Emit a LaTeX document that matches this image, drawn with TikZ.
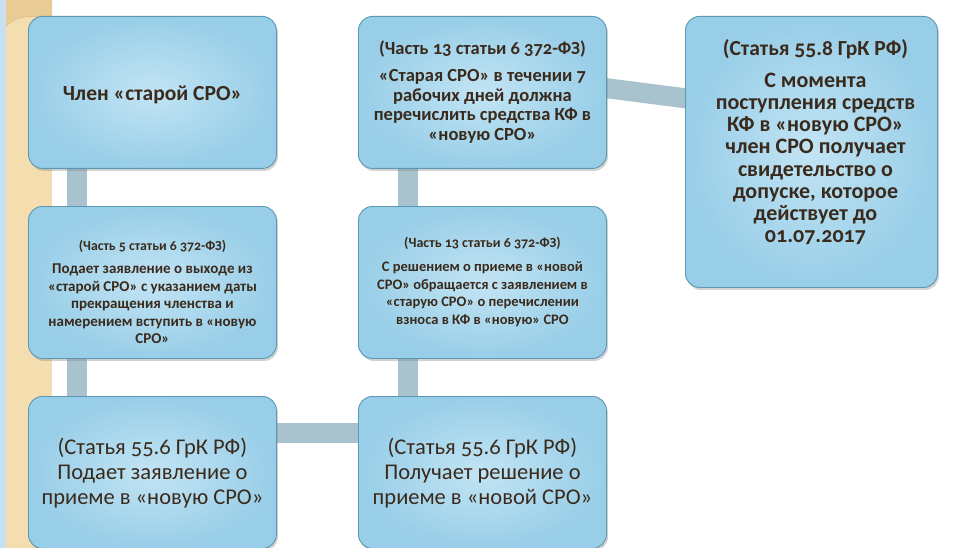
\documentclass[tikz,border=0pt]{standalone}
\usepackage{fontspec}
\setmainfont{Carlito}[Numbers=OldStyle]
\usetikzlibrary{calc,shadows,backgrounds}
\definecolor{boxfillin}{HTML}{C2E4F4}
\definecolor{boxfillout}{HTML}{98CEE8}
\definecolor{boxline}{HTML}{5A98B4}
\definecolor{barcol}{HTML}{A8C3CD}
\definecolor{txtcol}{HTML}{3A2A1C}
\definecolor{beige}{HTML}{F4DDAF}
\definecolor{beigedark}{HTML}{E9CC95}
\definecolor{leftblue}{HTML}{C9E0F0}
\tikzset{
  box/.style={draw=boxline, line width=0.9pt, rounded corners=14pt,
    inner color=boxfillin, outer color=boxfillout,
    minimum width=248pt, minimum height=152pt, anchor=north west,
    inner sep=0pt,
    drop shadow={opacity=0.35, shadow xshift=1.5pt, shadow yshift=-2.5pt}},
  txt/.style={align=center, text=txtcol, inner sep=0pt, anchor=center},
  bar/.style={draw=barcol, line width=20pt},
}
\begin{document}
\begin{tikzpicture}[x=1pt,y=-1pt]
\useasboundingbox (0,0) rectangle (971,548);
\begin{scope}[on background layer]
\fill[white] (0,0) rectangle (971,548);
% left decorative strip
\fill[leftblue] (0,0) rectangle (6,548);
\fill[beige] (6,0) rectangle (52,548);
\fill[beigedark] (6,0) -- (52,0) -- (52,22) .. controls (40,14) and (18,14) .. (6,26) -- cycle;
\draw[beigedark!80!brown, line width=0.6pt] (52,22) .. controls (40,14) and (18,14) .. (6,26);
\end{scope}

% boxes
\node[box] (A) at (28,16) {};
\node[box] (B) at (358,16) {};
\node[box, minimum width=252pt, minimum height=271pt] (C) at (685,16) {};
\node[box] (D) at (28,206) {};
\node[box] (E) at (358,206) {};
\node[box] (F) at (28,396) {};
\node[box] (G) at (358,396) {};

% texts
\node[txt, font=\bfseries\fontsize{21.5}{24}\selectfont] (At) at ($(A.north)+(0,79)$) {Член «старой СРО»};

\node[txt, font=\bfseries\fontsize{18.5}{19.5}\selectfont] (Bt) at ($(B.north)+(0,76)$)
 {(Часть 13 статьи 6 372-ФЗ)\\[8pt]
  «Старая СРО» в течении 7\\ рабочих дней должна\\ перечислить средства КФ в\\ «новую СРО»};

\node[txt, font=\bfseries\fontsize{22}{22.2}\selectfont] (Ct) at ($(C.north)+(4,126)$)
 {{\fontsize{21.5}{22}\selectfont (Статья 55.8 ГрК РФ)}\\[10pt]
  С момента\\ поступления средств\\ КФ в «новую СРО»\\ член СРО получает\\ свидетельство о\\ допуске, которое\\ действует до\\ 01.07.2017};

\node[txt, font=\bfseries\fontsize{15}{17.5}\selectfont] (Dt) at ($(D.north)+(0,86)$)
 {{\fontsize{13.8}{15}\selectfont (Часть 5 статьи 6 372-ФЗ)}\\[6pt]
  Подает заявление о выходе из\\ «старой СРО» с указанием даты\\ прекращения членства и\\ намерением вступить в «новую\\ СРО»};

\node[txt, font=\bfseries\fontsize{14.5}{17.6}\selectfont] (Et) at ($(E.north)+(0,76)$)
 {{\fontsize{14}{15}\selectfont (Часть 13 статьи 6 372-ФЗ)}\\[6pt]
  С решением о приеме в «новой\\ СРО» обращается с заявлением в\\ «старую СРО» о перечислении\\ взноса в КФ в «новую» СРО};

\node[txt, font=\fontsize{22.5}{25}\selectfont] (Ft) at ($(F.north)+(0,77)$)
 {(Статья 55.6 ГрК РФ)\\ Подает заявление о\\ приеме в «новую СРО»};

\node[txt, font=\fontsize{22.5}{25}\selectfont] (Gt) at ($(G.north)+(0,77)$)
 {(Статья 55.6 ГрК РФ)\\ Получает решение о\\ приеме в «новой СРО»};

% connectors behind boxes
\begin{scope}[on background layer]
\draw[bar] ($(A.south west)+(49,-2)$) -- ($(D.north west)+(49,2)$);
\draw[bar] ($(D.south west)+(49,-2)$) -- ($(F.north west)+(49,2)$);
\draw[bar] ($(F.north east)+(-2,37)$) -- ($(G.north west)+(2,37)$);
\draw[bar] ($(G.north west)+(50,2)$) -- ($(E.south west)+(50,-2)$);
\draw[bar] ($(E.north west)+(50,2)$) -- ($(B.south west)+(50,-2)$);
\draw[bar] ($(B.north east)+(-2,72)$) -- ($(C.north west)+(2,82.5)$);
\end{scope}
\end{tikzpicture}
\end{document}
